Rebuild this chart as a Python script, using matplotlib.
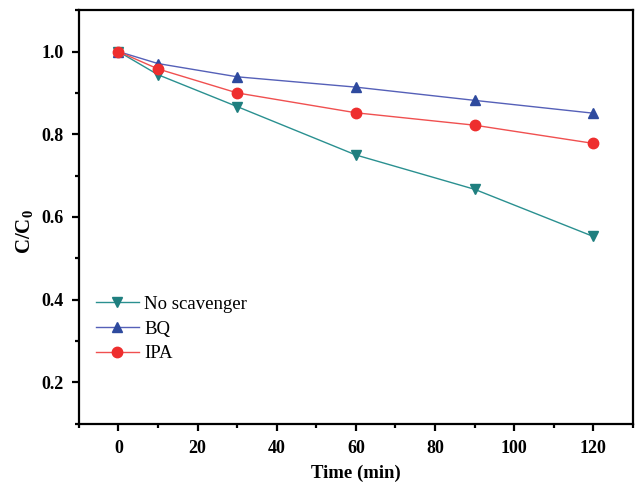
import numpy as np
import matplotlib
matplotlib.use('Agg')
import matplotlib.pyplot as plt
from matplotlib.ticker import MultipleLocator

plt.rcParams['font.family'] = ['Liberation Serif', 'DejaVu Serif']
plt.rcParams['mathtext.fontset'] = 'custom'
plt.rcParams['mathtext.rm'] = 'Liberation Serif:bold'
plt.rcParams['mathtext.bf'] = 'Liberation Serif:bold'

# data
time_min = [0, 10, 30, 60, 90, 120]
no_scavenger = [1.0, 0.944, 0.867, 0.75, 0.667, 0.553]
bq = [1.0, 0.971, 0.939, 0.914, 0.882, 0.851]
ipa = [1.0, 0.958, 0.9, 0.852, 0.822, 0.778]

fig = plt.figure(figsize=(6.36, 4.86), dpi=100)
ax = fig.add_axes([0.124, 0.128, 0.871, 0.851])

ax.plot(time_min, no_scavenger, color='#2a9090', marker='v', ms=7.5,
        mfc='#1f7f7f', mec='#1f7f7f', lw=1, label='No scavenger')
ax.plot(time_min, bq, color='#5560b8', marker='^', ms=7.5,
        mfc='#2e4a9e', mec='#2e4a9e', lw=1, label='BQ')
ax.plot(time_min, ipa, color='#f05050', marker='o', ms=7.5,
        mfc='#ee2e2e', mec='#ee2e2e', lw=1, label='IPA')

ax.set_xlim(-10, 130)
ax.set_ylim(0.1, 1.1)
ax.xaxis.set_major_locator(MultipleLocator(20))
ax.xaxis.set_minor_locator(MultipleLocator(10))
ax.yaxis.set_major_locator(MultipleLocator(0.2))
ax.yaxis.set_minor_locator(MultipleLocator(0.1))
ax.set_yticks([0.2, 0.4, 0.6, 0.8, 1.0])

for s in ax.spines.values():
    s.set_linewidth(1.6)
ax.tick_params(which='major', direction='out', length=5, width=1.6,
               labelsize=13, top=False, right=False)
ax.tick_params(axis='x', which='major', pad=7)
ax.tick_params(axis='y', which='major', pad=6)
ax.tick_params(which='minor', direction='out', length=3, width=1.6,
               top=False, right=False)
for lab in ax.get_xticklabels() + ax.get_yticklabels():
    lab.set_fontweight('bold')

ax.set_xlabel('Time (min)', fontsize=13.5, fontweight='bold', labelpad=5)
ax.set_ylabel('C/C$_\\mathregular{0}$', fontsize=15, fontweight='bold')
ax.yaxis.set_label_coords(-0.078, 0.465)

ax.legend(loc='upper left', bbox_to_anchor=(0.0, 0.35), frameon=False,
          fontsize=13.5, handlelength=2.3, handletextpad=0.3,
          labelspacing=0.4, borderaxespad=0.5)

fig.savefig('out.png', dpi=100)
